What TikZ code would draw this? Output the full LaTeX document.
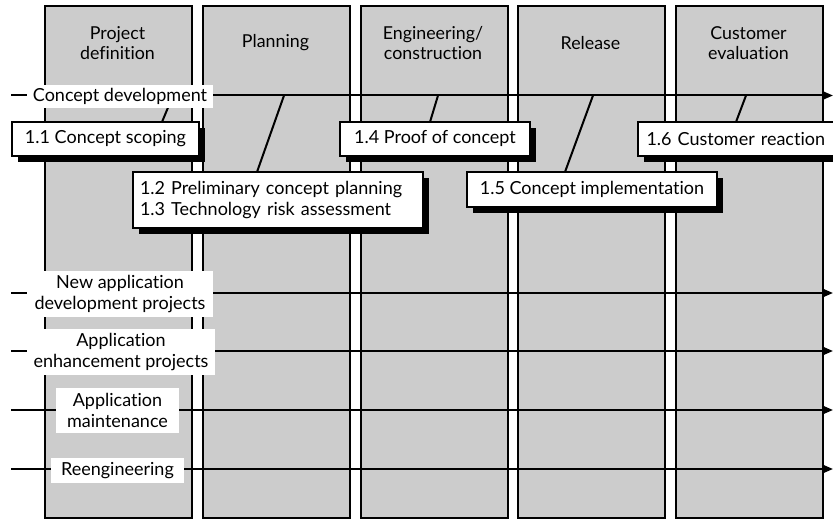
\documentclass[tikz,border=0pt]{standalone}
\usepackage{fontspec}
\setmainfont{Lato}[Ligatures={NoCommon}]
\usetikzlibrary{arrows.meta,shadows}
\definecolor{colgray}{HTML}{CCCCCC}
\begin{document}
\begin{tikzpicture}[x=1pt,y=-1pt,
  phase/.style={draw=black, line width=2pt, fill=colgray, minimum width=147pt,
    minimum height=512pt, anchor=north west, inner sep=0pt},
  head/.style={align=center, font=\fontsize{17.8}{20.5}\selectfont, inner sep=0pt},
  flow/.style={line width=2pt, -{Triangle[length=10pt,width=8pt]}},
  link/.style={line width=2pt},
  lab/.style={fill=white, align=center, inner sep=0pt, font=\fontsize{18}{21.5}\selectfont},
  act/.style={draw=black, fill=white, line width=2pt, inner sep=0pt,
    font=\fontsize{18}{20.5}\selectfont,
    drop shadow={shadow xshift=6pt, shadow yshift=-6pt, fill=black, opacity=1}}
]
\useasboundingbox (0,0) rectangle (833,519);
\clip (0,0) rectangle (833,519);
% phase columns
\node[phase] (p1) at (44,5) {};
\node[phase] (p2) at (202,5) {};
\node[phase] (p3) at (359.5,5) {};
\node[phase] (p4) at (517,5) {};
\node[phase] (p5) at (675,5) {};
\node[head] (h1) at (117.5,43) {Project\\definition};
\node[head] (h2) at (275.5,43) {Planning};
\node[head] (h3) at (433,43) {Engineering/\\construction};
\node[head] (h4) at (590.5,43) {Release};
\node[head] (h5) at (748.5,43) {Customer\\evaluation};
% flow lines
\coordinate (s1) at (11,95.5);  \coordinate (e1) at (833,95.5);
\coordinate (s2) at (11,293);   \coordinate (e2) at (833,293);
\coordinate (s3) at (11,351);   \coordinate (e3) at (833,351);
\coordinate (s4) at (11,410);   \coordinate (e4) at (833,410);
\coordinate (s5) at (11,469);   \coordinate (e5) at (833,469);
\draw[flow] (s1) -- (e1);
\draw[flow] (s2) -- (e2);
\draw[flow] (s3) -- (e3);
\draw[flow] (s4) -- (e4);
\draw[flow] (s5) -- (e5);
% connector points on the concept line
\coordinate (t1) at (173,95.5);
\coordinate (t2) at (284,95.5);
\coordinate (t4) at (438,95.5);
\coordinate (t5) at (593,95.5);
\coordinate (t6) at (746,95.5);
\coordinate (a1) at (162,122);
\coordinate (a2) at (257,172);
\coordinate (a4) at (430,122);
\coordinate (a5) at (565,172);
\coordinate (a6) at (736,122);
\draw[link] (a1) -- (t1);
\draw[link] (a2) -- (t2);
\draw[link] (a4) -- (t4);
\draw[link] (a5) -- (t5);
\draw[link] (a6) -- (t6);
% line labels
\node[lab, minimum width=186pt, minimum height=23pt] (l1) at (120,96.5) {Concept development};
\node[lab, minimum width=186pt, minimum height=46pt] (l2) at (120,294) {New application\\development projects};
\node[lab, minimum width=188pt, minimum height=46pt] (l3) at (121,352) {Application\\enhancement projects};
\node[lab, minimum width=123pt, minimum height=45pt] (l4) at (117.5,410.5) {Application\\maintenance};
\node[lab, minimum width=133pt, minimum height=25pt] (l5) at (117.5,470.5) {Reengineering};
% activity boxes
\node[act, minimum width=187pt, minimum height=34pt] (b11) at (105.5,139) {1.1 Concept scoping};
\node[act, minimum width=290pt, minimum height=56pt, text width=276pt, align=left, inner xsep=7pt] (b12) at (278,200) {1.2 Preliminary concept planning\\1.3 Technology risk assessment};
\node[act, minimum width=190pt, minimum height=34pt] (b14) at (435,139) {1.4 Proof of concept};
\node[act, minimum width=250pt, minimum height=35pt] (b15) at (592,189.5) {1.5 Concept implementation};
\node[act, minimum width=207pt, minimum height=34pt, text width=190pt, align=left, inner xsep=9pt] (b16) at (741.5,139) {1.6 Customer reaction};
\end{tikzpicture}
\end{document}
